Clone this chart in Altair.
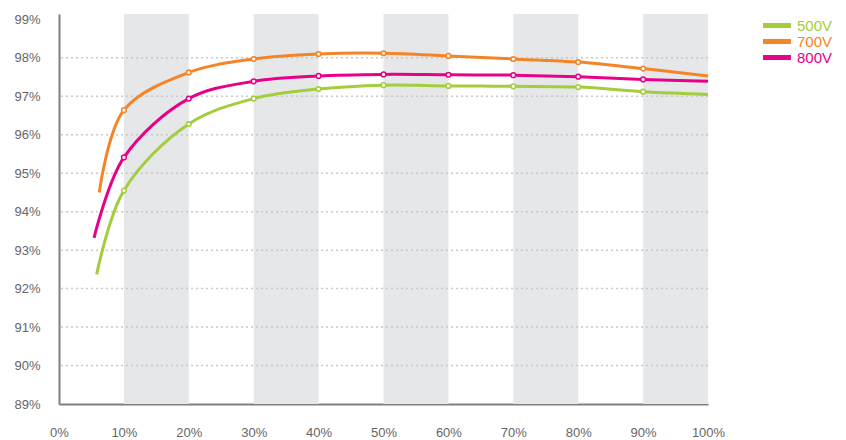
import altair as alt
import pandas as pd

# ---------------- data ----------------
series = ["500V", "700V", "800V"]
colors = ["#a3cd3b", "#f58426", "#e8008a"]

x_500 = [5.8, 10, 20, 30, 40, 50, 60, 70, 80, 90, 100]
y_500 = [92.37, 94.55, 96.28, 96.94, 97.19, 97.29, 97.27, 97.26, 97.24, 97.12, 97.05]

x_700 = [6.2, 10, 20, 30, 40, 50, 60, 70, 80, 90, 100]
y_700 = [94.50, 96.64, 97.62, 97.97, 98.10, 98.12, 98.05, 97.97, 97.89, 97.72, 97.53]

x_800 = [5.4, 10, 20, 30, 40, 50, 60, 70, 80, 90, 100]
y_800 = [93.32, 95.41, 96.94, 97.39, 97.53, 97.57, 97.56, 97.55, 97.51, 97.44, 97.39]

band_starts = [10, 30, 50, 70, 90]
band_ends = [20, 40, 60, 80, 100]
grid_values = [90, 91, 92, 93, 94, 95, 96, 97, 98]
y_ticks = [89, 90, 91, 92, 93, 94, 95, 96, 97, 98, 99]
x_ticks = [0, 10, 20, 30, 40, 50, 60, 70, 80, 90, 100]
y_min, y_max = 89, 99.14

# ---------------- tables ----------------
rows = []
for name, xs, ys in [("500V", x_500, y_500), ("700V", x_700, y_700), ("800V", x_800, y_800)]:
    for i, (x, y) in enumerate(zip(xs, ys)):
        rows.append({"series": name, "x": x, "y": y,
                     "marker": 0 < i < len(xs) - 1})
df = pd.DataFrame(rows)
bands = pd.DataFrame({"start": band_starts, "end": band_ends,
                      "lo": [y_min] * len(band_starts), "hi": [y_max] * len(band_starts)})
grid = pd.DataFrame({"v": grid_values})

FONT = "Liberation Sans"
xscale = alt.Scale(domain=[0, 100], nice=False, zero=False)
yscale = alt.Scale(domain=[y_min, y_max], nice=False, zero=False)
xaxis = alt.Axis(values=x_ticks, labelExpr="datum.value + '%'", title=None, grid=False,
                 ticks=False, labelPadding=22, labelFlush=False, domainColor="#7f7f7f",
                 domainWidth=2, labelColor="#666666", labelFont=FONT, labelFontSize=13)
yaxis = alt.Axis(values=y_ticks, labelExpr="datum.value + '%'", title=None, grid=False,
                 ticks=False, labelPadding=19, domainColor="#7f7f7f", domainWidth=2,
                 labelColor="#666666", labelFont=FONT, labelFontSize=13)
cscale = alt.Scale(domain=series, range=colors)

band_layer = alt.Chart(bands).mark_rect(color="#e6e7e8").encode(
    x=alt.X("start:Q", scale=xscale, axis=xaxis),
    x2="end:Q",
    y=alt.Y("lo:Q", scale=yscale, axis=yaxis),
    y2="hi:Q",
)

grid_layer = alt.Chart(grid).mark_rule(color="#c8c8c8", strokeDash=[2, 3], strokeWidth=1.5).encode(
    y=alt.Y("v:Q", scale=yscale, axis=yaxis),
)

label_color = ("datum.label == '500V' ? '%s' : datum.label == '700V' ? '%s' : '%s'"
               % tuple(colors))

line_layer = alt.Chart(df).mark_line(interpolate="catmull-rom", strokeWidth=3).encode(
    x=alt.X("x:Q", scale=xscale, axis=xaxis),
    y=alt.Y("y:Q", scale=yscale, axis=yaxis),
    color=alt.Color("series:N", scale=cscale, legend=alt.Legend(
        title=None, orient="none", legendX=704, legendY=5,
        symbolType="M-5,0H5", symbolSize=67, symbolStrokeWidth=5,
        labelFontSize=15, labelFont=FONT, labelLimit=80, clipHeight=13,
        labelColor=alt.ExprRef(label_color), padding=0, rowPadding=0, labelOffset=19)),
)

point_layer = alt.Chart(df).transform_filter("datum.marker").mark_point(
    shape="circle", fill="white", filled=False, fillOpacity=1, opacity=1,
    size=22, strokeWidth=1.5).encode(
    x=alt.X("x:Q", scale=xscale, axis=xaxis),
    y=alt.Y("y:Q", scale=yscale, axis=yaxis),
    stroke=alt.Stroke("series:N", scale=cscale, legend=None),
)

chart = alt.layer(band_layer, grid_layer, line_layer, point_layer).properties(
    width=649, height=390, autosize="none",
    padding={"left": 51, "top": 6, "right": 130, "bottom": 34},
).configure_view(stroke=None)

chart.save("out.html", embed_options={"renderer": "svg", "actions": False})
